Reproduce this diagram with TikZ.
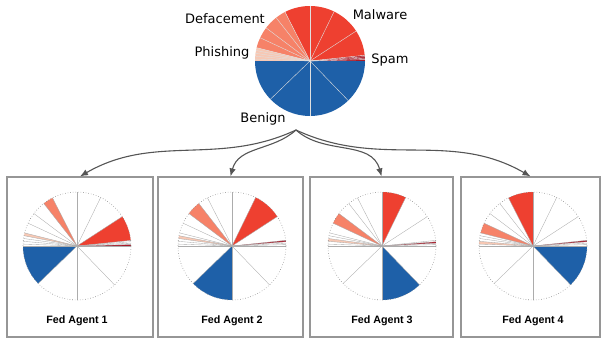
\documentclass[tikz,border=0pt]{standalone}
\usepackage{fontspec}
\setmainfont{DejaVu Sans}
\newfontfamily\agentfont{Liberation Sans}
\usetikzlibrary{arrows.meta}

\definecolor{benignblue}{RGB}{30,96,168}
\definecolor{malwarered}{RGB}{238,64,48}
\definecolor{defacesalmon}{RGB}{246,130,104}
\definecolor{phishpeach}{RGB}{247,200,180}
\definecolor{spamred}{RGB}{170,25,40}
\definecolor{arrowgray}{RGB}{85,85,85}
\definecolor{boxgray}{RGB}{150,150,150}

% one filled sector: centre, radius, start angle, end angle, colour
\newcommand{\slicefill}[5]{%
  \fill[#5] (#1) -- ++(#3:#2) arc[start angle=#3, end angle=#4, radius=#2] -- cycle;}

\begin{document}
\begin{tikzpicture}[x=1pt, y=1pt,
    catlabel/.style={font=\fontsize{13}{15}\selectfont},
    agentbox/.style={draw=boxgray, line width=1.2pt, minimum height=160pt, inner sep=0pt},
    agentname/.style={font=\agentfont\bfseries\fontsize{10.7}{12}\selectfont},
    flow/.style={draw=arrowgray, line width=1.1pt, -{Latex[length=8pt,width=6.5pt]}},
    seam/.style={white!75!gray, line width=0.4pt},
    spoke/.style={gray!65, line width=0.35pt},
    rim/.style={gray!90, line width=0.6pt, dotted},
]
\useasboundingbox (0,0) rectangle (603,341);

% === Global model ===
\coordinate (top) at (310,280);
\slicefill{top}{55pt}{0}{6}{spamred}
\slicefill{top}{55pt}{6}{117}{malwarered}
\slicefill{top}{55pt}{117}{166}{defacesalmon}
\slicefill{top}{55pt}{166}{180}{phishpeach}
\slicefill{top}{55pt}{180}{360}{benignblue}
\foreach \a in {1.5,3,4.5,6,33,64,90,117,128,143,155,166,169,172,175,178,224,270,314}
    \draw[seam] (top) -- ++(\a:55pt);

\node[catlabel] (malware) at (380,326) {Malware};
\node[catlabel] (deface) at (225,322) {Defacement};
\node[catlabel] (phish) at (222,288) {Phishing};
\node[catlabel] (spam) at (390,281) {Spam};
\node[catlabel] (benign) at (263,222) {Benign};

% === Federated agents ===
\foreach \k/\cx/\bx/\bw/\sa/\sb/\ma/\mb/\da/\db/\pa/\pb/\ba/\bb in {
    1/77/80/146/0/1.5/6/33/117/128/166/169/180/224,
    2/232/230.5/145/4.5/6/33/64/128/143/169/172/224/270,
    3/382/381.5/143/3/4.5/64/90/143/155/172/175/270/314,
    4/533/530.5/139/4.5/6/90/117/155/166/175/178/314/360}
{
    \node[agentbox, minimum width=\bw pt] (agent\k) at (\bx,84) {};
    \coordinate (pie\k) at (\cx,95);
    \slicefill{pie\k}{54pt}{\sa}{\sb}{spamred}
    \slicefill{pie\k}{54pt}{\ma}{\mb}{malwarered}
    \slicefill{pie\k}{54pt}{\da}{\db}{defacesalmon}
    \slicefill{pie\k}{54pt}{\pa}{\pb}{phishpeach}
    \slicefill{pie\k}{54pt}{\ba}{\bb}{benignblue}
    \foreach \a in {0,1.5,3,4.5,6,33,64,90,117,128,143,155,166,169,172,175,178,180,224,270,314}
        \draw[spoke] (pie\k) -- ++(\a:54pt);
    \draw[rim] (pie\k) circle[radius=54pt];
    \node[agentname] (name\k) at (\cx,20) {Fed Agent \k};
}

% === Distribution arrows ===
\coordinate (fork) at (296,211);
\draw[flow] (fork) to[out=205, in=30] (agent1.north);
\draw[flow] (fork) to[out=222, in=75] (agent2.north);
\draw[flow] (fork) to[out=-42, in=105] (agent3.north);
\draw[flow] (fork) to[out=-25, in=150] (agent4.north);

\end{tikzpicture}
\end{document}
